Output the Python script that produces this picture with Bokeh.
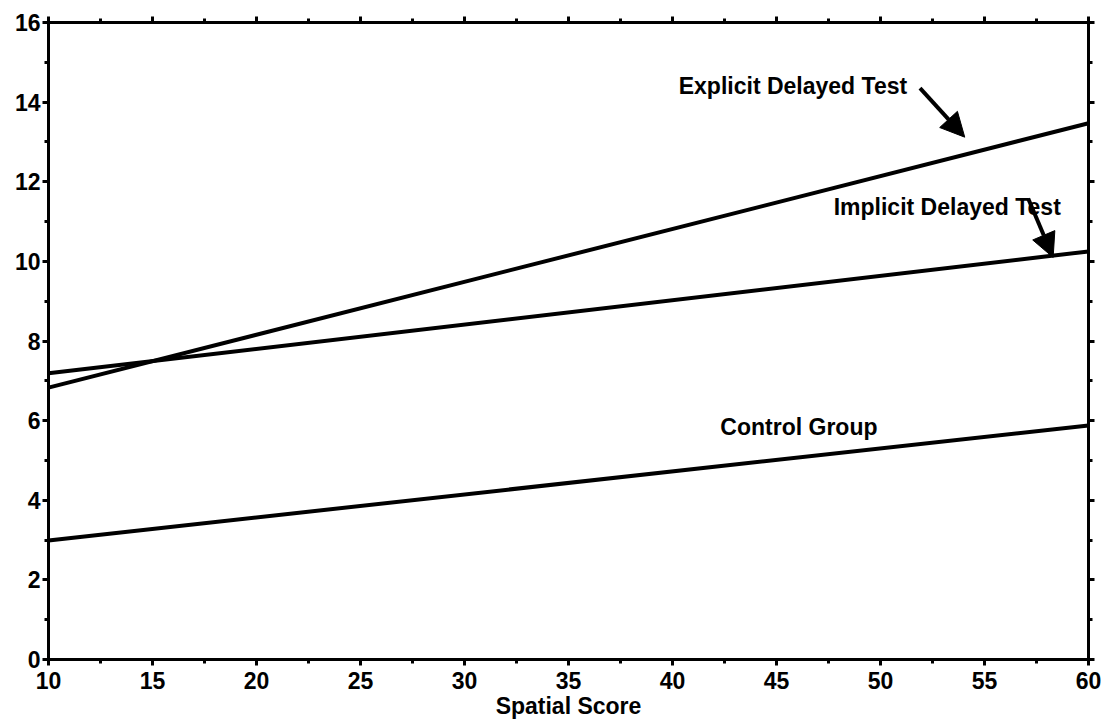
from bokeh.plotting import figure
from bokeh.models import LinearAxis, Arrow, NormalHead, FixedTicker, Label, CustomJSTickFormatter
from bokeh.embed import file_html
from bokeh.resources import INLINE

# data
spatial = [10, 60]
explicit_delayed = [6.83, 13.47]
implicit_delayed = [7.19, 10.25]
control_group = [2.99, 5.88]

x_major = [10, 15, 20, 25, 30, 35, 40, 45, 50, 55, 60]
x_minor = [12.5, 17.5, 22.5, 27.5, 32.5, 37.5, 42.5, 47.5, 52.5, 57.5]
y_major = [0, 2, 4, 6, 8, 10, 12, 14, 16]
y_minor = [1, 3, 5, 7, 9, 11, 13, 15]

labels = ["Explicit Delayed Test", "Implicit Delayed Test", "Control Group"]
label_x = [40.3, 47.75, 42.3]
label_y = [14.4, 11.36, 5.85]
arrow_x0 = [51.9, 57.1]
arrow_y0 = [14.35, 11.58]
arrow_x1 = [54.05, 58.3]
arrow_y1 = [13.12, 10.1]

FONT = "Liberation Sans"

p = figure(frame_width=1040, frame_height=637, x_range=(10, 60), y_range=(0, 16),
           output_backend="svg", toolbar_location=None,
           min_border_left=48, min_border_right=15, min_border_top=22,
           min_border_bottom=55, x_axis_label="Spatial Score")
p.grid.visible = False
p.outline_line_color = "black"
p.outline_line_width = 3
p.background_fill_color = "white"
p.border_fill_color = "white"

def style(ax, show_labels, ticker):
    ax.ticker = ticker
    ax.axis_line_width = 3
    ax.axis_line_color = "black"
    ax.major_tick_line_width = 3
    ax.minor_tick_line_width = 3
    ax.major_tick_in = 0
    ax.major_tick_out = 6
    ax.minor_tick_in = 0
    ax.minor_tick_out = 4
    ax.major_label_text_font = FONT
    ax.major_label_text_color = "black"
    ax.major_label_text_font_style = "bold"
    ax.major_label_text_font_size = "23px"
    if show_labels:
        ax.major_label_standoff = 2
    else:
        ax.formatter = CustomJSTickFormatter(code="return ''")
        ax.major_label_standoff = 0

xt = FixedTicker(ticks=x_major, minor_ticks=x_minor)
yt = FixedTicker(ticks=y_major, minor_ticks=y_minor)

style(p.xaxis[0], True, xt)
style(p.yaxis[0], True, yt)
p.xaxis[0].major_label_standoff = 6
p.xaxis[0].axis_label_text_font = FONT
p.xaxis[0].axis_label_text_font_size = "23px"
p.xaxis[0].axis_label_text_font_style = "bold"
p.xaxis[0].axis_label_text_color = "black"
p.xaxis[0].axis_label_standoff = 1

top = LinearAxis()
style(top, False, FixedTicker(ticks=x_major, minor_ticks=x_minor))
p.add_layout(top, "above")
right = LinearAxis()
style(right, False, FixedTicker(ticks=y_major, minor_ticks=y_minor))
p.add_layout(right, "right")

for ys in (explicit_delayed, implicit_delayed, control_group):
    p.line(spatial, ys, line_color="black", line_width=4)

for t, lx, ly in zip(labels, label_x, label_y):
    p.add_layout(Label(x=lx, y=ly, text=t, text_font=FONT, text_font_size="23px",
                       text_font_style="bold",
                       text_color="black", text_baseline="alphabetic"))

for x0, y0, x1, y1 in zip(arrow_x0, arrow_y0, arrow_x1, arrow_y1):
    p.add_layout(Arrow(end=NormalHead(size=24, fill_color="black", line_color="black"),
                       x_start=x0, y_start=y0, x_end=x1, y_end=y1,
                       line_width=4, line_color="black"))

open("out.html", "w").write(file_html(p, INLINE))
